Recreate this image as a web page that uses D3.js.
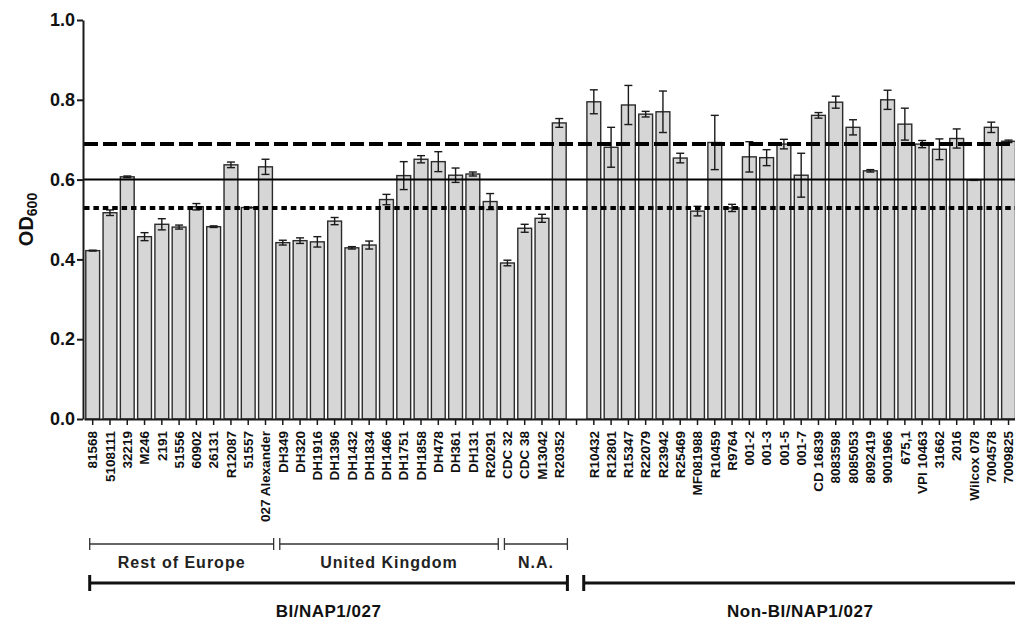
<!DOCTYPE html>
<html>
<head>
<meta charset="utf-8">
<script src="https://cdn.jsdelivr.net/npm/d3@7"></script>
<style>
  html, body { margin: 0; padding: 0; background: #fff; }
  svg { display: block; font-family: Arial, "Liberation Sans", sans-serif; }
</style>
</head>
<body>
<svg id="chart" width="1015" height="620"></svg>
<script>
// Strains (blank entry = spacer between the two clades)
const strains = [
  "81568", "5108111", "32219", "M246", "2191", "51556", "60902", "26131", "R12087", "51557", "027 Alexander",
  "DH349", "DH320", "DH1916", "DH1396", "DH1432", "DH1834", "DH1466", "DH1751", "DH1858", "DH478", "DH361", "DH131", "R20291",
  "CDC 32", "CDC 38", "M13042", "R20352",
  "",
  "R10432", "R12801", "R15347", "R22079", "R23942", "R25469", "MF081988", "R10459", "R9764",
  "001-2", "001-3", "001-5", "001-7", "CD 16839", "8083598", "8085053", "8092419", "9001966",
  "675,1", "VPI 10463", "31662", "2016", "Wilcox 078", "7004578", "7009825"
];

// Mean OD600 per strain
const meanOD = [
  0.422, 0.517, 0.607, 0.457, 0.488, 0.481, 0.532, 0.482, 0.637, 0.530, 0.632,
  0.442, 0.447, 0.444, 0.496, 0.429, 0.436, 0.550, 0.610, 0.651, 0.645, 0.611, 0.614, 0.545,
  0.391, 0.478, 0.503, 0.742,
  null,
  0.795, 0.681, 0.787, 0.764, 0.770, 0.654, 0.521, 0.693, 0.529,
  0.657, 0.655, 0.689, 0.611, 0.761, 0.794, 0.731, 0.622, 0.800,
  0.739, 0.689, 0.676, 0.703, 0.599, 0.731, 0.696
];

// Standard error per strain
const errOD = [
  0.001, 0.007, 0.002, 0.010, 0.014, 0.005, 0.008, 0.002, 0.007, 0.001, 0.019,
  0.006, 0.007, 0.013, 0.009, 0.003, 0.010, 0.013, 0.035, 0.009, 0.025, 0.018, 0.005, 0.020,
  0.007, 0.010, 0.010, 0.011,
  null,
  0.030, 0.050, 0.049, 0.007, 0.052, 0.012, 0.012, 0.068, 0.009,
  0.038, 0.020, 0.012, 0.055, 0.007, 0.015, 0.019, 0.003, 0.024,
  0.040, 0.009, 0.026, 0.024, 0.001, 0.013, 0.003
];

// Reference levels
const refLevels = [0.689, 0.600, 0.529];
const refStyles = ["dashed", "solid", "dotted"];

// Y axis ticks
const yTicks = [0.0, 0.2, 0.4, 0.6, 0.8, 1.0];

// Geographic groups (first / last strain)
const regionNames = ["Rest of Europe", "United Kingdom", "N.A."];
const regionFirst = ["81568", "DH349", "CDC 32"];
const regionLast  = ["027 Alexander", "R20291", "R20352"];

// Ribotype clades (first / last strain)
const cladeNames = ["BI/NAP1/027", "Non-BI/NAP1/027"];
const cladeFirst = ["81568", "R10432"];
const cladeLast  = ["R20352", "7009825"];

const svg = d3.select("#chart");
const y0 = 419, y1 = 20;
const step = 17.28;
const xStart = 84.06;

const x = d3.scaleBand()
  .domain(strains.map((s, i) => i))
  .range([xStart, xStart + step * strains.length])
  .paddingInner(0.2)
  .paddingOuter(0.1);

const y = d3.scaleLinear().domain([0, 1]).range([y0, y1]);

const cx = i => x(i) + x.bandwidth() / 2;
const idx = name => strains.indexOf(name);

const ink = "#1a1a1a";

// Bars
const data = strains.map((s, i) => ({ i, s, m: meanOD[i], e: errOD[i] })).filter(d => d.m != null);

svg.append("g")
  .selectAll("rect")
  .data(data)
  .join("rect")
  .attr("x", d => x(d.i))
  .attr("y", d => y(d.m))
  .attr("width", x.bandwidth())
  .attr("height", d => y(0) - y(d.m))
  .attr("fill", "#d6d6d6")
  .attr("stroke", "#2b2b2b")
  .attr("stroke-width", 1.4);

// Error bars
const eb = svg.append("g").attr("stroke", ink).attr("stroke-width", 1.4).attr("fill", "none");
data.forEach(d => {
  const c = cx(d.i), hw = 4;
  eb.append("line").attr("x1", c).attr("x2", c).attr("y1", y(d.m - d.e)).attr("y2", y(d.m + d.e));
  eb.append("line").attr("x1", c - hw).attr("x2", c + hw).attr("y1", y(d.m + d.e)).attr("y2", y(d.m + d.e));
  eb.append("line").attr("x1", c - hw).attr("x2", c + hw).attr("y1", y(d.m - d.e)).attr("y2", y(d.m - d.e));
});

// Reference lines
const dashFor = { dashed: "14,5", solid: null, dotted: "5.5,3.9" };
const widthFor = { dashed: 4, solid: 2, dotted: 4 };
refLevels.forEach((v, k) => {
  const st = refStyles[k];
  svg.append("line")
    .attr("x1", 84).attr("x2", 1015)
    .attr("y1", y(v)).attr("y2", y(v))
    .attr("stroke", "#000")
    .attr("stroke-width", widthFor[st])
    .attr("stroke-dasharray", dashFor[st]);
});

// Y axis
const yAxis = svg.append("g")
  .attr("transform", "translate(83,0)")
  .call(d3.axisLeft(y).tickValues(yTicks).tickFormat(d3.format(".1f")).tickSize(6).tickSizeOuter(0));
yAxis.select(".domain").attr("stroke", ink).attr("stroke-width", 2);
yAxis.selectAll(".tick line").attr("stroke", ink).attr("stroke-width", 2);
yAxis.selectAll(".tick text")
  .attr("x", -8)
  .attr("fill", "#111")
  .style("font-size", "18px")
  .style("font-weight", "bold");

// X axis
const xAxis = svg.append("g")
  .attr("transform", `translate(0,${y0})`)
  .call(d3.axisBottom(x).tickFormat(i => strains[i]).tickSize(6).tickSizeOuter(0));
xAxis.select(".domain").attr("stroke", ink).attr("stroke-width", 2);
xAxis.selectAll(".tick line").attr("stroke", ink).attr("stroke-width", 1.5);
xAxis.selectAll(".tick text")
  .attr("transform", "rotate(-90)")
  .attr("x", -12)
  .attr("y", 0)
  .attr("dy", "0.35em")
  .attr("text-anchor", "end")
  .attr("fill", "#111")
  .style("font-size", "13.5px")
  .style("font-weight", "bold");

// Y axis title: OD600
const yt = svg.append("text")
  .attr("transform", `translate(33,${(y0 + y1) / 2}) rotate(-90)`)
  .attr("text-anchor", "middle")
  .attr("fill", "#111")
  .style("font-size", "20px")
  .style("font-weight", "bold");
yt.append("tspan").text("OD");
yt.append("tspan").attr("dy", 4).style("font-size", "14px").text("600");

// Group brackets
function bracket(g, xa, xb, yy, half, sw) {
  g.append("line").attr("x1", xa).attr("x2", xb).attr("y1", yy).attr("y2", yy).attr("stroke-width", sw);
  g.append("line").attr("x1", xa).attr("x2", xa).attr("y1", yy - half).attr("y2", yy + half).attr("stroke-width", sw);
  g.append("line").attr("x1", xb).attr("x2", xb).attr("y1", yy - half).attr("y2", yy + half).attr("stroke-width", sw);
}

const gb = svg.append("g").attr("stroke", "#333").attr("fill", "none");
regionNames.forEach((name, k) => {
  const a = cx(idx(regionFirst[k])) - 3;
  const b = cx(idx(regionLast[k])) + step / 2 - 0.5;
  bracket(gb, a, b, 544, 6, 1.3);
  svg.append("text")
    .attr("x", (a + b) / 2).attr("y", 568)
    .attr("text-anchor", "middle")
    .attr("fill", "#222")
    .style("font-size", "16px")
    .style("font-weight", "bold")
    .style("letter-spacing", "1px")
    .text(name);
});

const gm = svg.append("g").attr("stroke", "#111").attr("fill", "none");
cladeNames.forEach((name, k) => {
  const fi = idx(cladeFirst[k]);
  const a = fi === 0 ? cx(fi) - 3 : (cx(fi - 1) + x(fi)) / 2 + 2;
  const b = cx(idx(cladeLast[k])) + step / 2 - 0.5;
  bracket(gm, a, b, 583, 8, 3);
  svg.append("text")
    .attr("x", (a + b) / 2).attr("y", 617)
    .attr("text-anchor", "middle")
    .attr("fill", "#111")
    .style("font-size", "17px")
    .style("font-weight", "bold")
    .style("letter-spacing", "0.5px")
    .text(name);
});
</script>
</body>
</html>
